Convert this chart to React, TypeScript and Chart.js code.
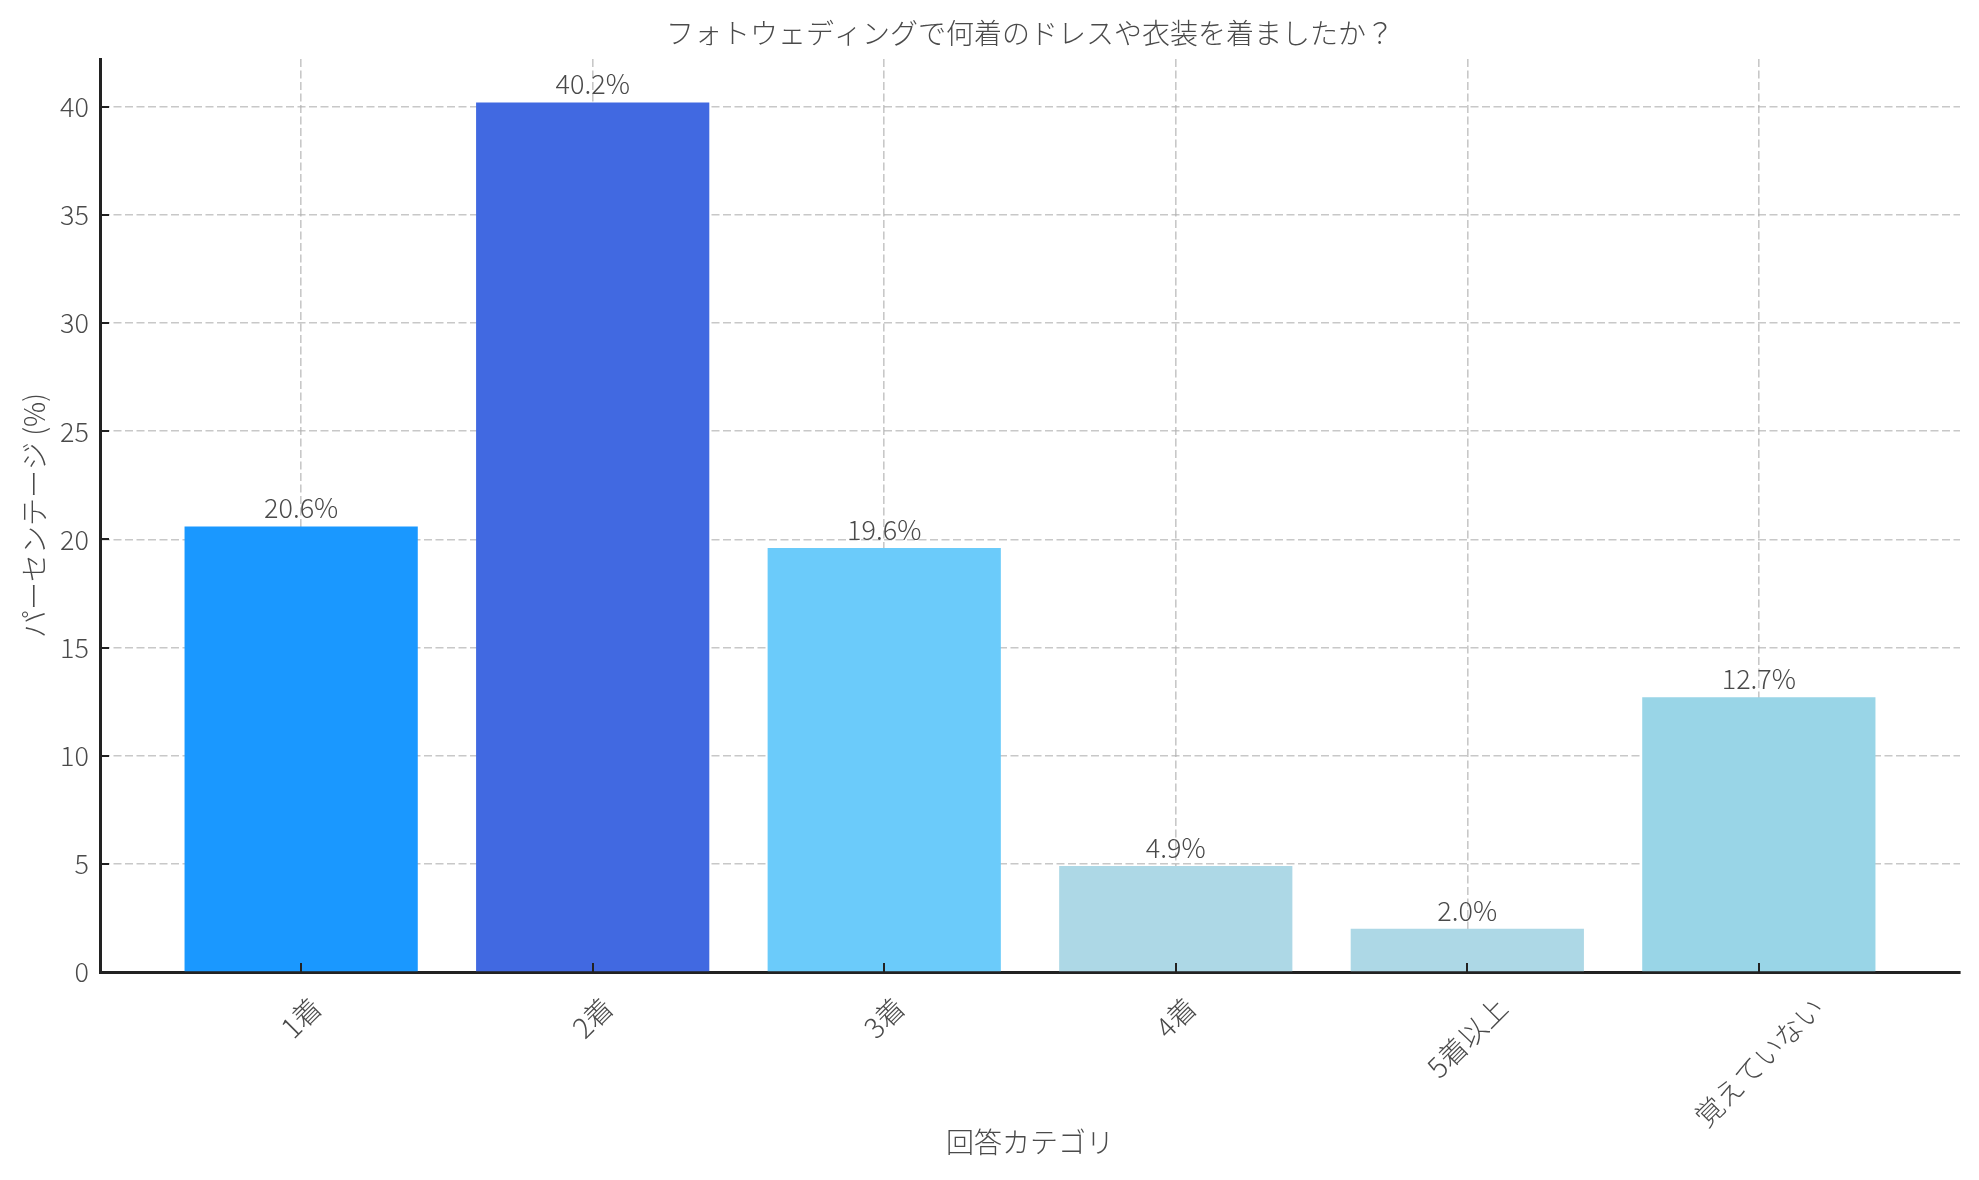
import React, { useEffect, useRef } from 'react';
import { Chart, registerables } from 'chart.js';

Chart.register(...registerables);

// data
const categories = ['1着', '2着', '3着', '4着', '5着以上', '覚えていない'];
const percentages = [20.6, 40.2, 19.6, 4.9, 2.0, 12.7];
const barColors = ['#1A98FF', '#4169E1', '#6BCBFA', '#ADD8E6', '#ADD8E6', '#99D5E7'];

const chartTitle = 'フォトウェディングで何着のドレスや衣装を着ましたか？';
const xTitle = '回答カテゴリ';
const yTitle = 'パーセンテージ (%)';

const yMax = 42.21;
const yStep = 5;
const xMin = -0.69;
const xMax = 5.69;

const FONT = "'Noto Sans CJK JP', 'Noto Sans', sans-serif";
const TEXT = '#4a4a4a';
const GRID = 'rgba(176,176,176,0.7)';
const FS = 28; // CJK text
const NUM_FS = 27; // numbers

const overlayPlugin = {
  id: 'overlay',
  afterDraw(chart: any) {
    const { ctx, chartArea, scales } = chart;
    const x = scales.x;
    const y = scales.y;
    ctx.save();

    // inward tick marks
    ctx.strokeStyle = '#222';
    ctx.lineWidth = 2;
    ctx.beginPath();
    y.ticks.forEach((t: any) => {
      const py = Math.round(y.getPixelForValue(t.value));
      ctx.moveTo(chartArea.left, py);
      ctx.lineTo(chartArea.left + 9, py);
    });
    categories.forEach((_, i) => {
      const px = Math.round(x.getPixelForValue(i));
      ctx.moveTo(px, chartArea.bottom);
      ctx.lineTo(px, chartArea.bottom - 9);
    });
    ctx.stroke();

    ctx.fillStyle = TEXT;

    // value labels above the bars
    ctx.font = `300 ${NUM_FS}px ${FONT}`;
    ctx.textAlign = 'center';
    ctx.textBaseline = 'alphabetic';
    const meta = chart.getDatasetMeta(0);
    meta.data.forEach((bar: any, i: number) => {
      ctx.fillText(percentages[i].toFixed(1) + '%', bar.x, bar.y - 8);
    });

    // rotated category labels, centred under the tick
    ctx.font = `300 ${FS}px ${FONT}`;
    ctx.textBaseline = 'middle';
    categories.forEach((label, i) => {
      const px = x.getPixelForValue(i);
      const w = ctx.measureText(label).width;
      const h = FS * 1.15;
      const cy = chartArea.bottom + 19 + ((w + h) * Math.SQRT1_2) / 2;
      ctx.save();
      ctx.translate(px, cy);
      ctx.rotate(-Math.PI / 4);
      ctx.fillText(label, 0, 0);
      ctx.restore();
    });

    // titles
    const cx = (chartArea.left + chartArea.right) / 2;
    ctx.fillText(chartTitle, cx, 33);
    ctx.fillText(xTitle, cx, 1142);
    ctx.save();
    ctx.translate(34, (chartArea.top + chartArea.bottom) / 2);
    ctx.rotate(-Math.PI / 2);
    ctx.fillText(yTitle, 0, 0);
    ctx.restore();

    ctx.restore();
  },
};

const PhotoWeddingChart: React.FC = () => {
  const canvasRef = useRef<HTMLCanvasElement>(null);
  const chartRef = useRef<Chart | null>(null);

  useEffect(() => {
    document.body.style.margin = '0';
    if (!canvasRef.current) return;
    const ctx = canvasRef.current.getContext('2d');
    if (!ctx) return;

    chartRef.current = new Chart(ctx, {
      type: 'bar',
      data: {
        datasets: [
          {
            data: percentages.map((v, i) => ({ x: i, y: v })),
            backgroundColor: barColors,
            borderWidth: 0,
            categoryPercentage: 1,
            barPercentage: 0.8,
          },
        ],
      },
      options: {
        animation: false,
        responsive: false,
        devicePixelRatio: 1,
        layout: { padding: { top: 59, right: 19, left: 0, bottom: 0 } },
        plugins: {
          legend: { display: false },
          tooltip: { enabled: false },
          title: { display: false },
        },
        scales: {
          x: {
            type: 'linear',
            min: xMin,
            max: xMax,
            offset: false,
            z: 1,
            grid: { color: GRID, lineWidth: 1.6, drawTicks: false, offset: false },
            border: { color: '#222', width: 3, dash: [8, 3.5] },
            ticks: { display: false, stepSize: 1, includeBounds: false },
            afterFit: (scale: any) => {
              scale.height = 208;
            },
          },
          y: {
            type: 'linear',
            min: 0,
            max: yMax,
            z: 1,
            grid: { color: GRID, lineWidth: 1.6, drawTicks: false },
            border: { color: '#222', width: 3, dash: [8, 3.5] },
            ticks: {
              stepSize: yStep,
              includeBounds: false,
              padding: 11,
              color: TEXT,
              font: { family: FONT, size: NUM_FS, weight: '300' as any },
            },
            afterBuildTicks: (scale: any) => {
              scale.ticks = scale.ticks.filter((t: any) => t.value % yStep === 0);
            },
            afterFit: (scale: any) => {
              scale.width = 100;
            },
          },
        },
      } as any,
      plugins: [overlayPlugin],
    });

    return () => {
      if (chartRef.current) {
        chartRef.current.destroy();
        chartRef.current = null;
      }
    };
  }, []);

  return (
    <div style={{ width: 1979, height: 1180, background: '#fff' }}>
      <canvas ref={canvasRef} width={1979} height={1180} aria-label="フォトウェディングの着数" />
    </div>
  );
};

export default function App() {
  return <PhotoWeddingChart />;
}
